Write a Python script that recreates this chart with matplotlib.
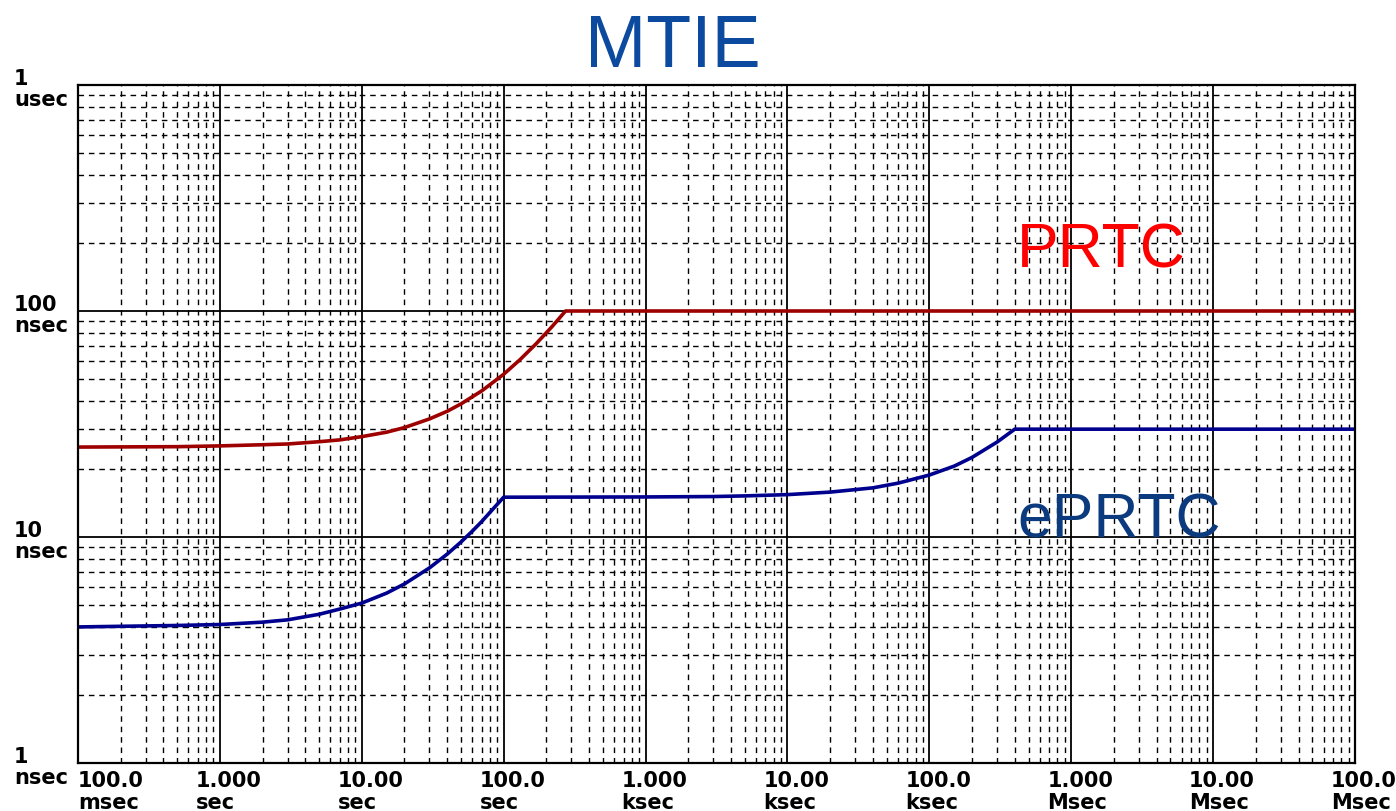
import matplotlib.pyplot as plt
from matplotlib.ticker import FixedLocator, LogLocator, NullFormatter

# MTIE masks: observation interval tau (s) -> MTIE (ns)
tau_prtc = [0.1, 0.5, 1, 2, 3, 5, 7, 10, 15, 20, 30, 40, 50, 70, 100,
            130, 170, 220, 273, 1e8]
mtie_prtc = [25.0, 25.1, 25.3, 25.6, 25.8, 26.4, 26.9, 27.8, 29.1, 30.5,
             33.3, 36.0, 38.8, 44.3, 52.5, 60.8, 71.8, 85.5, 100.0, 100.0]

tau_eprtc = [0.1, 0.5, 1, 2, 3, 5, 7, 10, 15, 20, 30, 40, 50, 60, 70, 85,
             100, 1000, 3000, 5000, 1e4, 2e4, 4e4, 6e4, 1e5, 1.5e5, 2e5,
             3e5, 4e5, 1e8]
mtie_eprtc = [4.0, 4.06, 4.1, 4.2, 4.3, 4.55, 4.8, 5.1, 5.65, 6.2, 7.3, 8.4,
              9.5, 10.6, 11.7, 13.4, 15.0, 15.04, 15.1, 15.2, 15.4, 15.8,
              16.5, 17.3, 18.8, 20.6, 22.5, 26.3, 30.0, 30.0]

x_ticks = [0.1, 1, 10, 100, 1e3, 1e4, 1e5, 1e6, 1e7, 1e8]
x_numbers = ['100.0', '1.000', '10.00', '100.0', '1.000', '10.00', '100.0',
             '1.000', '10.00', '100.0']
x_units = ['msec', 'sec', 'sec', 'sec', 'ksec', 'ksec', 'ksec',
           'Msec', 'Msec', 'Msec']

y_ticks = [1, 10, 100, 1000]
y_numbers = ['1', '10', '100', '1']
y_units = ['nsec', 'nsec', 'nsec', 'usec']

PX = 72 / 100  # points per pixel at dpi 100

plt.rcParams['font.family'] = ['Liberation Sans', 'DejaVu Sans']

fig = plt.figure(figsize=(13.96, 8.11), dpi=100)
ax = fig.add_axes([78 / 1396, 48 / 811, 1277 / 1396, 678 / 811])
ax.set_xscale('log')
ax.set_yscale('log')
ax.set_xlim(0.1, 1e8)
ax.set_ylim(1, 1000)

# decade lines solid, 2..9 lines dashed
for axis, ticks in ((ax.xaxis, x_ticks), (ax.yaxis, y_ticks)):
    axis.set_major_locator(FixedLocator(ticks))
    axis.set_minor_locator(LogLocator(base=10, subs=range(2, 10), numticks=30))
    axis.set_major_formatter(NullFormatter())
    axis.set_minor_formatter(NullFormatter())
ax.tick_params(which='both', length=0)
ax.grid(which='major', color='black', lw=1.3, ls='-')
ax.grid(which='minor', color='black', lw=1.0, ls=(0, (4, 3.5)))
ax.set_axisbelow(True)
for sp in ax.spines.values():
    sp.set_linewidth(1.6)
    sp.set_zorder(5)

ax.plot(tau_prtc, mtie_prtc, color='#9E0000', lw=2.6, zorder=4)
ax.plot(tau_eprtc, mtie_eprtc, color='#00008F', lw=2.6, zorder=4)

# x tick labels: number with unit below, left-aligned just left of the line
lab = dict(fontsize=15, fontweight='bold', family='DejaVu Sans',
           ha='left', va='baseline', textcoords='offset points',
           annotation_clip=False)
for i, (t, num, unit) in enumerate(zip(x_ticks, x_numbers, x_units)):
    dx = 0 if i == 0 else -24 * PX
    ax.annotate(num, xy=(t, 0), xycoords=('data', 'axes fraction'),
                xytext=(dx, -24 * PX), **lab)
    ax.annotate(unit, xy=(t, 0), xycoords=('data', 'axes fraction'),
                xytext=(dx, -46 * PX), **lab)

# y tick labels at the far left
for t, num, unit in zip(y_ticks, y_numbers, y_units):
    ax.annotate(num, xy=(0, t), xycoords=('axes fraction', 'data'),
                xytext=(-64 * PX, 0), **lab)
    ax.annotate(unit, xy=(0, t), xycoords=('axes fraction', 'data'),
                xytext=(-64 * PX, -21 * PX), **lab)

fig.text(673 / 1396, 1 - 67 / 811, 'MTIE', ha='center', va='baseline',
         fontsize=53, color='#0B4A9E')
fig.text(1017 / 1396, 1 - 267 / 811, 'PRTC', ha='left', va='baseline',
         fontsize=45, color='#FF0000')
fig.text(1017 / 1396, 1 - 537 / 811, 'ePRTC', ha='left', va='baseline',
         fontsize=45, color='#0B3A7E')

fig.savefig('out.png', dpi=100)
